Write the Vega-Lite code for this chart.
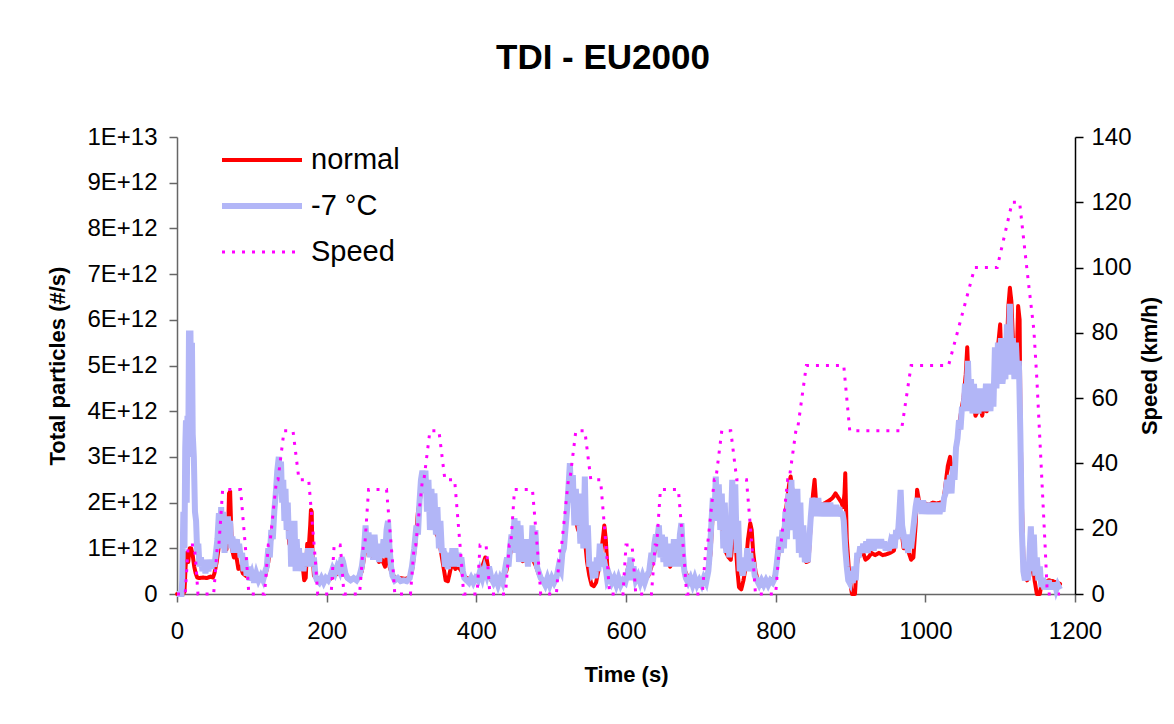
{
"$schema": "https://vega.github.io/schema/vega-lite/v6.json",
"width": 898, "height": 457,
"autosize": {"type": "none"},
"padding": {"left": 177, "top": 137, "right": 99, "bottom": 130},
"background": "white",
"title": {"text": "TDI - EU2000", "font": "Liberation Sans", "fontSize": 35, "fontWeight": "bold", "color": "#000", "anchor": "middle", "baseline": "alphabetic", "offset": 21, "dx": -23},
"datasets": {
"normal": [
{"t":0,"normal":0},{"t":8,"normal":0},{"t":10,"normal":0.05e12},{"t":11.5,"normal":0.6e12},{"t":13,"normal":0.9e12},{"t":15,"normal":0.7e12},{"t":17,"normal":1.0e12},{"t":19,"normal":1.0e12},{"t":21,"normal":0.85e12},{"t":23,"normal":0.6e12},{"t":25,"normal":0.45e12},{"t":27,"normal":0.36e12},{"t":30,"normal":0.35e12},{"t":35,"normal":0.36e12},{"t":40,"normal":0.35e12},{"t":45,"normal":0.38e12},{"t":48,"normal":0.36e12},{"t":50,"normal":0.45e12},{"t":53,"normal":0.7e12},{"t":56,"normal":1.05e12},{"t":58,"normal":1.3e12},{"t":60,"normal":1.2e12},{"t":62,"normal":1.35e12},{"t":64,"normal":1.1e12},{"t":66,"normal":0.97e12},{"t":68,"normal":1.2e12},{"t":69.5,"normal":2.2e12},{"t":71,"normal":2.24e12},{"t":72.5,"normal":1.4e12},{"t":74,"normal":0.95e12},{"t":76,"normal":0.8e12},{"t":78,"normal":1.0e12},{"t":80,"normal":0.75e12},{"t":82,"normal":0.55e12},{"t":85,"normal":0.6e12},{"t":88,"normal":0.45e12},{"t":92,"normal":0.4e12},{"t":96,"normal":0.35e12},{"t":100,"normal":0.33e12},{"t":105,"normal":0.3e12},{"t":110,"normal":0.32e12},{"t":115,"normal":0.35e12},{"t":118,"normal":0.4e12},{"t":122,"normal":0.7e12},{"t":126,"normal":1.2e12},{"t":130,"normal":1.8e12},{"t":133,"normal":2.3e12},{"t":136,"normal":2.6e12},{"t":138,"normal":2.5e12},{"t":140,"normal":2.2e12},{"t":143,"normal":2.0e12},{"t":146,"normal":2.0e12},{"t":148,"normal":1.5e12},{"t":150,"normal":1.1e12},{"t":153,"normal":1.0e12},{"t":156,"normal":1.2e12},{"t":159,"normal":0.9e12},{"t":162,"normal":0.7e12},{"t":165,"normal":0.75e12},{"t":168,"normal":0.6e12},{"t":170,"normal":0.3e12},{"t":172,"normal":0.35e12},{"t":174,"normal":1.1e12},{"t":176,"normal":1.0e12},{"t":178,"normal":1.5e12},{"t":179,"normal":1.84e12},{"t":180,"normal":1.8e12},{"t":181,"normal":0.9e12},{"t":183,"normal":0.4e12},{"t":186,"normal":0.35e12},{"t":190,"normal":0.35e12},{"t":195,"normal":0.33e12},{"t":200,"normal":0.35e12},{"t":205,"normal":0.33e12},{"t":210,"normal":0.4e12},{"t":215,"normal":0.45e12},{"t":220,"normal":0.55e12},{"t":223,"normal":0.5e12},{"t":227,"normal":0.35e12},{"t":232,"normal":0.33e12},{"t":238,"normal":0.35e12},{"t":243,"normal":0.35e12},{"t":247,"normal":0.5e12},{"t":251,"normal":0.9e12},{"t":254,"normal":1.1e12},{"t":258,"normal":1.0e12},{"t":262,"normal":0.8e12},{"t":266,"normal":0.85e12},{"t":270,"normal":0.7e12},{"t":274,"normal":0.75e12},{"t":278,"normal":0.6e12},{"t":282,"normal":1.0e12},{"t":284,"normal":0.6e12},{"t":287,"normal":0.45e12},{"t":292,"normal":0.35e12},{"t":298,"normal":0.35e12},{"t":304,"normal":0.33e12},{"t":310,"normal":0.35e12},{"t":314,"normal":0.5e12},{"t":318,"normal":1.0e12},{"t":322,"normal":1.8e12},{"t":326,"normal":2.2e12},{"t":329,"normal":2.3e12},{"t":332,"normal":2.6e12},{"t":335,"normal":2.3e12},{"t":338,"normal":2.0e12},{"t":341,"normal":1.8e12},{"t":344,"normal":1.5e12},{"t":347,"normal":1.3e12},{"t":350,"normal":1.2e12},{"t":353,"normal":0.9e12},{"t":356,"normal":0.6e12},{"t":359,"normal":0.3e12},{"t":362,"normal":0.28e12},{"t":365,"normal":0.5e12},{"t":368,"normal":0.7e12},{"t":372,"normal":0.55e12},{"t":376,"normal":0.6e12},{"t":380,"normal":0.5e12},{"t":384,"normal":0.4e12},{"t":388,"normal":0.33e12},{"t":392,"normal":0.35e12},{"t":396,"normal":0.3e12},{"t":400,"normal":0.35e12},{"t":404,"normal":0.45e12},{"t":408,"normal":0.6e12},{"t":412,"normal":0.8e12},{"t":414,"normal":0.75e12},{"t":417,"normal":0.45e12},{"t":420,"normal":0.3e12},{"t":425,"normal":0.35e12},{"t":430,"normal":0.3e12},{"t":436,"normal":0.4e12},{"t":440,"normal":0.5e12},{"t":444,"normal":0.8e12},{"t":447,"normal":1.0e12},{"t":450,"normal":1.3e12},{"t":453,"normal":1.2e12},{"t":456,"normal":1.0e12},{"t":459,"normal":0.8e12},{"t":462,"normal":0.72e12},{"t":465,"normal":0.75e12},{"t":468,"normal":0.9e12},{"t":471,"normal":0.75e12},{"t":474,"normal":0.9e12},{"t":477,"normal":0.7e12},{"t":480,"normal":0.6e12},{"t":483,"normal":0.45e12},{"t":486,"normal":0.35e12},{"t":490,"normal":0.3e12},{"t":495,"normal":0.3e12},{"t":500,"normal":0.3e12},{"t":505,"normal":0.33e12},{"t":510,"normal":0.5e12},{"t":514,"normal":0.7e12},{"t":518,"normal":1.2e12},{"t":521,"normal":1.8e12},{"t":524,"normal":2.2e12},{"t":527,"normal":2.5e12},{"t":530,"normal":2.0e12},{"t":533,"normal":1.6e12},{"t":536,"normal":1.4e12},{"t":539,"normal":1.8e12},{"t":542,"normal":1.5e12},{"t":545,"normal":1.2e12},{"t":548,"normal":0.7e12},{"t":551,"normal":0.4e12},{"t":554,"normal":0.2e12},{"t":557,"normal":0.17e12},{"t":560,"normal":0.25e12},{"t":563,"normal":0.5e12},{"t":566,"normal":0.8e12},{"t":569,"normal":1.2e12},{"t":571,"normal":1.5e12},{"t":573,"normal":1.2e12},{"t":575,"normal":0.6e12},{"t":578,"normal":0.35e12},{"t":582,"normal":0.3e12},{"t":588,"normal":0.28e12},{"t":594,"normal":0.3e12},{"t":600,"normal":0.35e12},{"t":603,"normal":0.6e12},{"t":606,"normal":0.6e12},{"t":609,"normal":0.45e12},{"t":612,"normal":0.35e12},{"t":616,"normal":0.3e12},{"t":620,"normal":0.28e12},{"t":625,"normal":0.35e12},{"t":630,"normal":0.4e12},{"t":634,"normal":0.6e12},{"t":638,"normal":0.9e12},{"t":642,"normal":1.1e12},{"t":645,"normal":1.25e12},{"t":648,"normal":1.0e12},{"t":651,"normal":0.9e12},{"t":655,"normal":0.75e12},{"t":659,"normal":0.6e12},{"t":662,"normal":0.7e12},{"t":665,"normal":0.9e12},{"t":669,"normal":0.8e12},{"t":673,"normal":1.0e12},{"t":676,"normal":0.7e12},{"t":679,"normal":0.5e12},{"t":683,"normal":0.35e12},{"t":688,"normal":0.3e12},{"t":694,"normal":0.3e12},{"t":700,"normal":0.32e12},{"t":706,"normal":0.35e12},{"t":710,"normal":0.5e12},{"t":713,"normal":0.9e12},{"t":716,"normal":1.8e12},{"t":719,"normal":2.1e12},{"t":722,"normal":2.3e12},{"t":725,"normal":2.0e12},{"t":728,"normal":1.5e12},{"t":731,"normal":1.2e12},{"t":734,"normal":0.9e12},{"t":737,"normal":0.8e12},{"t":740,"normal":0.75e12},{"t":743,"normal":1.2e12},{"t":745,"normal":2.0e12},{"t":747,"normal":1.0e12},{"t":749,"normal":0.5e12},{"t":751,"normal":0.15e12},{"t":754,"normal":0.1e12},{"t":757,"normal":0.3e12},{"t":760,"normal":0.6e12},{"t":763,"normal":1.2e12},{"t":766,"normal":1.55e12},{"t":768,"normal":1.4e12},{"t":770,"normal":0.9e12},{"t":773,"normal":0.5e12},{"t":776,"normal":0.3e12},{"t":782,"normal":0.28e12},{"t":790,"normal":0.3e12},{"t":797,"normal":0.33e12},{"t":800,"normal":0.45e12},{"t":803,"normal":0.8e12},{"t":806,"normal":1.1e12},{"t":809,"normal":1.2e12},{"t":812,"normal":1.6e12},{"t":815,"normal":2.0e12},{"t":818,"normal":2.4e12},{"t":820,"normal":2.57e12},{"t":823,"normal":2.2e12},{"t":826,"normal":1.9e12},{"t":829,"normal":1.6e12},{"t":832,"normal":1.8e12},{"t":835,"normal":1.2e12},{"t":838,"normal":0.8e12},{"t":841,"normal":0.7e12},{"t":844,"normal":0.72e12},{"t":847,"normal":1.6e12},{"t":850,"normal":2.2e12},{"t":852,"normal":2.5e12},{"t":854,"normal":2.0e12},{"t":857,"normal":2.0e12},{"t":862,"normal":1.95e12},{"t":867,"normal":2.0e12},{"t":872,"normal":2.05e12},{"t":876,"normal":2.1e12},{"t":880,"normal":2.2e12},{"t":884,"normal":2.1e12},{"t":888,"normal":2.0e12},{"t":890,"normal":1.9e12},{"t":892,"normal":2.2e12},{"t":893,"normal":2.64e12},{"t":895,"normal":1.2e12},{"t":898,"normal":0.5e12},{"t":901,"normal":0.1e12},{"t":902,"normal":0},{"t":906,"normal":0},{"t":908,"normal":0.6e12},{"t":911,"normal":0.85e12},{"t":914,"normal":1.0e12},{"t":917,"normal":0.9e12},{"t":920,"normal":0.75e12},{"t":924,"normal":0.8e12},{"t":928,"normal":0.9e12},{"t":933,"normal":0.85e12},{"t":938,"normal":0.9e12},{"t":943,"normal":0.85e12},{"t":948,"normal":0.87e12},{"t":953,"normal":0.9e12},{"t":958,"normal":0.95e12},{"t":961,"normal":1.2e12},{"t":964,"normal":1.5e12},{"t":966,"normal":1.77e12},{"t":968,"normal":1.4e12},{"t":971,"normal":1.0e12},{"t":975,"normal":1.0e12},{"t":978,"normal":0.9e12},{"t":981,"normal":0.75e12},{"t":984,"normal":0.8e12},{"t":987,"normal":1.5e12},{"t":989,"normal":2.28e12},{"t":992,"normal":2.0e12},{"t":996,"normal":2.0e12},{"t":1000,"normal":1.98e12},{"t":1005,"normal":1.95e12},{"t":1010,"normal":2.0e12},{"t":1015,"normal":1.98e12},{"t":1020,"normal":2.0e12},{"t":1024,"normal":2.0e12},{"t":1027,"normal":2.4e12},{"t":1030,"normal":2.8e12},{"t":1033,"normal":3.0e12},{"t":1036,"normal":2.6e12},{"t":1039,"normal":2.8e12},{"t":1042,"normal":3.3e12},{"t":1045,"normal":3.7e12},{"t":1048,"normal":4.0e12},{"t":1051,"normal":4.3e12},{"t":1054,"normal":4.8e12},{"t":1056,"normal":5.4e12},{"t":1058,"normal":4.6e12},{"t":1061,"normal":4.1e12},{"t":1064,"normal":4.3e12},{"t":1067,"normal":3.9e12},{"t":1070,"normal":4.0e12},{"t":1073,"normal":4.2e12},{"t":1076,"normal":3.9e12},{"t":1079,"normal":4.2e12},{"t":1082,"normal":4.0e12},{"t":1085,"normal":4.5e12},{"t":1088,"normal":4.2e12},{"t":1091,"normal":4.5e12},{"t":1094,"normal":4.8e12},{"t":1097,"normal":5.4e12},{"t":1100,"normal":5.9e12},{"t":1102,"normal":5.0e12},{"t":1105,"normal":4.8e12},{"t":1108,"normal":5.0e12},{"t":1111,"normal":6.3e12},{"t":1113,"normal":6.7e12},{"t":1115,"normal":6.4e12},{"t":1117,"normal":5.6e12},{"t":1120,"normal":5.1e12},{"t":1122,"normal":5.0e12},{"t":1124,"normal":6.3e12},{"t":1126,"normal":6.0e12},{"t":1127,"normal":4.0e12},{"t":1129,"normal":2.0e12},{"t":1131,"normal":0.8e12},{"t":1133,"normal":0.4e12},{"t":1136,"normal":0.3e12},{"t":1139,"normal":0.4e12},{"t":1142,"normal":0.75e12},{"t":1144,"normal":0.6e12},{"t":1146,"normal":0.3e12},{"t":1148,"normal":0.1e12},{"t":1149,"normal":0},{"t":1153,"normal":0},{"t":1155,"normal":0.2e12},{"t":1157,"normal":0.3e12},{"t":1160,"normal":0.25e12},{"t":1165,"normal":0.3e12},{"t":1170,"normal":0.28e12},{"t":1175,"normal":0.25e12},{"t":1180,"normal":0.22e12}
],
"cold": [
{"t":0,"cold":0},{"t":6,"cold":0},{"t":7,"cold":0.3e12},{"t":8.5,"cold":1.8e12},{"t":10,"cold":1.0e12},{"t":11,"cold":3.2e12},{"t":12,"cold":3.8e12},{"t":13,"cold":2.0e12},{"t":14,"cold":3.9e12},{"t":15,"cold":3.0e12},{"t":16,"cold":5.7e12},{"t":18,"cold":5.7e12},{"t":19,"cold":4.0e12},{"t":20,"cold":5.5e12},{"t":21,"cold":3.5e12},{"t":22.5,"cold":3.0e12},{"t":24,"cold":1.8e12},{"t":25.5,"cold":1.6e12},{"t":27,"cold":0.9e12},{"t":28.5,"cold":1.1e12},{"t":30,"cold":0.6e12},{"t":32,"cold":0.8e12},{"t":34,"cold":0.5e12},{"t":36,"cold":0.7e12},{"t":38,"cold":0.45e12},{"t":40,"cold":0.75e12},{"t":42,"cold":0.5e12},{"t":44,"cold":0.7e12},{"t":46,"cold":0.55e12},{"t":48,"cold":0.75e12},{"t":50,"cold":0.6e12},{"t":52,"cold":0.9e12},{"t":54,"cold":1.2e12},{"t":56,"cold":1.77e12},{"t":57.5,"cold":1.2e12},{"t":59,"cold":1.9e12},{"t":60.5,"cold":1.0e12},{"t":62,"cold":1.8e12},{"t":63.5,"cold":0.9e12},{"t":65,"cold":1.5e12},{"t":66.5,"cold":1.1e12},{"t":68,"cold":1.7e12},{"t":69.5,"cold":1.3e12},{"t":71,"cold":1.6e12},{"t":72.5,"cold":1.0e12},{"t":74,"cold":1.26e12},{"t":75.5,"cold":0.9e12},{"t":77,"cold":1.2e12},{"t":78.5,"cold":0.95e12},{"t":80,"cold":1.2e12},{"t":81.5,"cold":0.9e12},{"t":83,"cold":1.1e12},{"t":85,"cold":0.8e12},{"t":87,"cold":0.9e12},{"t":89,"cold":0.5e12},{"t":91,"cold":0.8e12},{"t":93,"cold":0.4e12},{"t":95,"cold":0.6e12},{"t":97,"cold":0.3e12},{"t":100,"cold":0.45e12},{"t":103,"cold":0.25e12},{"t":106,"cold":0.45e12},{"t":109,"cold":0.3e12},{"t":112,"cold":0.4e12},{"t":115,"cold":0.3e12},{"t":118,"cold":0.5e12},{"t":120,"cold":0.6e12},{"t":122,"cold":1.0e12},{"t":124,"cold":0.8e12},{"t":126,"cold":1.4e12},{"t":128,"cold":1.2e12},{"t":130,"cold":1.8e12},{"t":132,"cold":2.2e12},{"t":134,"cold":2.7e12},{"t":136,"cold":3.0e12},{"t":137.5,"cold":2.6e12},{"t":139,"cold":2.9e12},{"t":140.5,"cold":2.0e12},{"t":142,"cold":2.5e12},{"t":143.5,"cold":1.6e12},{"t":145,"cold":2.3e12},{"t":146.5,"cold":1.4e12},{"t":148,"cold":2.0e12},{"t":149.5,"cold":1.2e12},{"t":151,"cold":1.6e12},{"t":152.5,"cold":0.6e12},{"t":154,"cold":1.6e12},{"t":155.5,"cold":0.7e12},{"t":157,"cold":1.6e12},{"t":158.5,"cold":0.5e12},{"t":160,"cold":1.2e12},{"t":161.5,"cold":0.6e12},{"t":163,"cold":1.0e12},{"t":165,"cold":0.5e12},{"t":167,"cold":0.9e12},{"t":169,"cold":0.5e12},{"t":171,"cold":0.8e12},{"t":173,"cold":0.6e12},{"t":175,"cold":1.0e12},{"t":177,"cold":0.7e12},{"t":179,"cold":1.0e12},{"t":181,"cold":0.6e12},{"t":183,"cold":0.8e12},{"t":185,"cold":0.4e12},{"t":187,"cold":0.3e12},{"t":190,"cold":0.25e12},{"t":193,"cold":0.35e12},{"t":196,"cold":0.25e12},{"t":199,"cold":0.35e12},{"t":202,"cold":0.3e12},{"t":205,"cold":0.4e12},{"t":208,"cold":0.55e12},{"t":211,"cold":0.45e12},{"t":214,"cold":0.6e12},{"t":217,"cold":0.5e12},{"t":220,"cold":0.8e12},{"t":222,"cold":0.7e12},{"t":225,"cold":0.45e12},{"t":228,"cold":0.35e12},{"t":232,"cold":0.3e12},{"t":236,"cold":0.35e12},{"t":240,"cold":0.3e12},{"t":244,"cold":0.4e12},{"t":247,"cold":0.6e12},{"t":250,"cold":1.0e12},{"t":252,"cold":1.5e12},{"t":254,"cold":0.9e12},{"t":256,"cold":1.35e12},{"t":258,"cold":0.8e12},{"t":260,"cold":1.3e12},{"t":262,"cold":0.75e12},{"t":264,"cold":1.3e12},{"t":266,"cold":0.8e12},{"t":268,"cold":1.1e12},{"t":270,"cold":0.7e12},{"t":272,"cold":1.0e12},{"t":274,"cold":0.8e12},{"t":276,"cold":1.2e12},{"t":278,"cold":0.8e12},{"t":280,"cold":1.4e12},{"t":282,"cold":1.6e12},{"t":284,"cold":1.0e12},{"t":286,"cold":0.6e12},{"t":288,"cold":0.4e12},{"t":291,"cold":0.3e12},{"t":295,"cold":0.35e12},{"t":299,"cold":0.28e12},{"t":303,"cold":0.3e12},{"t":307,"cold":0.28e12},{"t":311,"cold":0.35e12},{"t":314,"cold":0.6e12},{"t":317,"cold":1.0e12},{"t":320,"cold":1.5e12},{"t":322,"cold":1.3e12},{"t":324,"cold":2.0e12},{"t":326,"cold":2.5e12},{"t":328,"cold":2.7e12},{"t":330,"cold":2.3e12},{"t":332,"cold":2.7e12},{"t":334,"cold":1.8e12},{"t":336,"cold":2.5e12},{"t":338,"cold":1.4e12},{"t":340,"cold":2.3e12},{"t":342,"cold":1.6e12},{"t":344,"cold":2.2e12},{"t":346,"cold":1.3e12},{"t":348,"cold":1.9e12},{"t":350,"cold":1.0e12},{"t":352,"cold":1.6e12},{"t":354,"cold":0.9e12},{"t":356,"cold":1.0e12},{"t":358,"cold":0.6e12},{"t":360,"cold":0.7e12},{"t":362,"cold":0.55e12},{"t":364,"cold":0.9e12},{"t":366,"cold":0.6e12},{"t":368,"cold":1.0e12},{"t":370,"cold":0.6e12},{"t":372,"cold":1.0e12},{"t":374,"cold":0.65e12},{"t":376,"cold":0.9e12},{"t":378,"cold":0.6e12},{"t":380,"cold":0.8e12},{"t":382,"cold":0.5e12},{"t":384,"cold":0.35e12},{"t":387,"cold":0.3e12},{"t":390,"cold":0.25e12},{"t":393,"cold":0.35e12},{"t":396,"cold":0.25e12},{"t":399,"cold":0.35e12},{"t":402,"cold":0.3e12},{"t":405,"cold":0.5e12},{"t":408,"cold":0.35e12},{"t":411,"cold":0.55e12},{"t":414,"cold":0.4e12},{"t":417,"cold":0.6e12},{"t":420,"cold":0.35e12},{"t":423,"cold":0.25e12},{"t":426,"cold":0.35e12},{"t":429,"cold":0.2e12},{"t":432,"cold":0.35e12},{"t":435,"cold":0.25e12},{"t":438,"cold":0.5e12},{"t":441,"cold":0.8e12},{"t":443,"cold":0.6e12},{"t":445,"cold":1.0e12},{"t":447,"cold":1.3e12},{"t":449,"cold":1.1e12},{"t":451,"cold":1.66e12},{"t":453,"cold":0.9e12},{"t":455,"cold":1.6e12},{"t":457,"cold":0.7e12},{"t":459,"cold":1.5e12},{"t":461,"cold":0.8e12},{"t":463,"cold":1.2e12},{"t":465,"cold":0.7e12},{"t":467,"cold":1.1e12},{"t":469,"cold":0.6e12},{"t":471,"cold":1.2e12},{"t":473,"cold":0.8e12},{"t":475,"cold":1.5e12},{"t":477,"cold":0.7e12},{"t":479,"cold":1.4e12},{"t":481,"cold":0.6e12},{"t":483,"cold":0.5e12},{"t":486,"cold":0.35e12},{"t":489,"cold":0.3e12},{"t":492,"cold":0.2e12},{"t":495,"cold":0.35e12},{"t":498,"cold":0.2e12},{"t":501,"cold":0.35e12},{"t":504,"cold":0.25e12},{"t":507,"cold":0.35e12},{"t":510,"cold":0.6e12},{"t":513,"cold":0.5e12},{"t":515,"cold":0.9e12},{"t":517,"cold":1.0e12},{"t":519,"cold":1.4e12},{"t":521,"cold":1.8e12},{"t":523,"cold":2.3e12},{"t":525,"cold":2.86e12},{"t":527,"cold":2.0e12},{"t":529,"cold":2.6e12},{"t":531,"cold":1.5e12},{"t":533,"cold":2.3e12},{"t":535,"cold":1.5e12},{"t":537,"cold":1.9e12},{"t":539,"cold":1.1e12},{"t":541,"cold":2.2e12},{"t":543,"cold":1.0e12},{"t":545,"cold":2.57e12},{"t":547,"cold":1.0e12},{"t":549,"cold":1.5e12},{"t":551,"cold":0.6e12},{"t":553,"cold":0.7e12},{"t":555,"cold":0.45e12},{"t":557,"cold":0.5e12},{"t":559,"cold":0.35e12},{"t":561,"cold":0.8e12},{"t":563,"cold":0.5e12},{"t":565,"cold":1.1e12},{"t":567,"cold":0.6e12},{"t":569,"cold":0.9e12},{"t":571,"cold":0.7e12},{"t":573,"cold":0.55e12},{"t":575,"cold":0.3e12},{"t":578,"cold":0.4e12},{"t":581,"cold":0.25e12},{"t":584,"cold":0.35e12},{"t":587,"cold":0.2e12},{"t":590,"cold":0.35e12},{"t":593,"cold":0.2e12},{"t":596,"cold":0.3e12},{"t":599,"cold":0.25e12},{"t":602,"cold":0.45e12},{"t":604,"cold":0.35e12},{"t":606,"cold":0.8e12},{"t":608,"cold":0.3e12},{"t":610,"cold":0.6e12},{"t":613,"cold":0.3e12},{"t":616,"cold":0.4e12},{"t":619,"cold":0.25e12},{"t":622,"cold":0.4e12},{"t":625,"cold":0.25e12},{"t":628,"cold":0.4e12},{"t":631,"cold":0.5e12},{"t":634,"cold":0.9e12},{"t":636,"cold":0.7e12},{"t":638,"cold":1.1e12},{"t":640,"cold":1.3e12},{"t":642,"cold":1.2e12},{"t":644,"cold":1.5e12},{"t":646,"cold":0.8e12},{"t":648,"cold":1.3e12},{"t":650,"cold":0.7e12},{"t":652,"cold":1.25e12},{"t":654,"cold":0.6e12},{"t":656,"cold":1.1e12},{"t":658,"cold":0.7e12},{"t":660,"cold":1.0e12},{"t":662,"cold":0.6e12},{"t":664,"cold":1.2e12},{"t":666,"cold":0.7e12},{"t":668,"cold":1.1e12},{"t":670,"cold":0.6e12},{"t":672,"cold":1.3e12},{"t":674,"cold":1.55e12},{"t":676,"cold":0.9e12},{"t":678,"cold":0.5e12},{"t":680,"cold":0.35e12},{"t":683,"cold":0.25e12},{"t":686,"cold":0.35e12},{"t":689,"cold":0.2e12},{"t":692,"cold":0.35e12},{"t":695,"cold":0.2e12},{"t":698,"cold":0.3e12},{"t":701,"cold":0.2e12},{"t":704,"cold":0.35e12},{"t":707,"cold":0.25e12},{"t":710,"cold":0.5e12},{"t":712,"cold":0.9e12},{"t":714,"cold":1.5e12},{"t":716,"cold":2.1e12},{"t":718,"cold":1.6e12},{"t":720,"cold":2.57e12},{"t":722,"cold":1.7e12},{"t":724,"cold":2.4e12},{"t":726,"cold":1.4e12},{"t":728,"cold":2.2e12},{"t":730,"cold":1.0e12},{"t":732,"cold":2.0e12},{"t":734,"cold":0.9e12},{"t":736,"cold":1.6e12},{"t":738,"cold":0.8e12},{"t":740,"cold":1.4e12},{"t":742,"cold":2.5e12},{"t":744,"cold":1.2e12},{"t":746,"cold":2.4e12},{"t":748,"cold":0.9e12},{"t":750,"cold":1.6e12},{"t":752,"cold":0.5e12},{"t":754,"cold":0.6e12},{"t":756,"cold":0.4e12},{"t":758,"cold":0.8e12},{"t":760,"cold":0.5e12},{"t":762,"cold":1.0e12},{"t":764,"cold":0.6e12},{"t":766,"cold":0.9e12},{"t":768,"cold":0.5e12},{"t":770,"cold":0.7e12},{"t":772,"cold":0.4e12},{"t":775,"cold":0.3e12},{"t":778,"cold":0.2e12},{"t":781,"cold":0.3e12},{"t":784,"cold":0.2e12},{"t":787,"cold":0.3e12},{"t":790,"cold":0.2e12},{"t":793,"cold":0.3e12},{"t":796,"cold":0.25e12},{"t":799,"cold":0.35e12},{"t":801,"cold":0.6e12},{"t":803,"cold":0.9e12},{"t":805,"cold":1.25e12},{"t":807,"cold":0.9e12},{"t":809,"cold":1.4e12},{"t":811,"cold":1.0e12},{"t":813,"cold":1.8e12},{"t":815,"cold":1.2e12},{"t":817,"cold":2.2e12},{"t":819,"cold":1.4e12},{"t":821,"cold":2.5e12},{"t":823,"cold":1.5e12},{"t":825,"cold":2.3e12},{"t":827,"cold":1.2e12},{"t":829,"cold":2.3e12},{"t":831,"cold":0.9e12},{"t":833,"cold":2.0e12},{"t":835,"cold":0.8e12},{"t":837,"cold":1.5e12},{"t":839,"cold":0.7e12},{"t":841,"cold":0.8e12},{"t":843,"cold":0.7e12},{"t":845,"cold":1.2e12},{"t":847,"cold":1.7e12},{"t":849,"cold":2.1e12},{"t":851,"cold":1.9e12},{"t":853,"cold":2.1e12},{"t":855,"cold":1.7e12},{"t":857,"cold":2.1e12},{"t":859,"cold":1.7e12},{"t":861,"cold":2.0e12},{"t":863,"cold":1.7e12},{"t":865,"cold":2.0e12},{"t":867,"cold":1.75e12},{"t":869,"cold":2.0e12},{"t":871,"cold":1.7e12},{"t":873,"cold":2.0e12},{"t":875,"cold":1.75e12},{"t":877,"cold":1.95e12},{"t":879,"cold":1.7e12},{"t":881,"cold":1.95e12},{"t":883,"cold":1.75e12},{"t":885,"cold":1.9e12},{"t":887,"cold":1.7e12},{"t":889,"cold":1.8e12},{"t":891,"cold":1.6e12},{"t":893,"cold":1.0e12},{"t":895,"cold":0.6e12},{"t":897,"cold":0.3e12},{"t":899,"cold":0.24e12},{"t":901,"cold":0.5e12},{"t":903,"cold":0.24e12},{"t":905,"cold":0.6e12},{"t":907,"cold":0.3e12},{"t":909,"cold":0.9e12},{"t":911,"cold":0.8e12},{"t":913,"cold":1.04e12},{"t":915,"cold":0.9e12},{"t":917,"cold":1.1e12},{"t":919,"cold":0.9e12},{"t":921,"cold":1.15e12},{"t":923,"cold":0.9e12},{"t":925,"cold":1.2e12},{"t":927,"cold":0.95e12},{"t":929,"cold":1.15e12},{"t":931,"cold":0.95e12},{"t":933,"cold":1.2e12},{"t":935,"cold":1.0e12},{"t":937,"cold":1.2e12},{"t":939,"cold":1.0e12},{"t":941,"cold":1.2e12},{"t":943,"cold":1.0e12},{"t":945,"cold":1.15e12},{"t":947,"cold":0.95e12},{"t":949,"cold":1.1e12},{"t":951,"cold":0.95e12},{"t":953,"cold":1.1e12},{"t":955,"cold":1.0e12},{"t":957,"cold":1.3e12},{"t":959,"cold":1.0e12},{"t":961,"cold":1.4e12},{"t":963,"cold":1.2e12},{"t":965,"cold":1.7e12},{"t":967,"cold":2.28e12},{"t":969,"cold":1.5e12},{"t":971,"cold":1.3e12},{"t":973,"cold":1.0e12},{"t":975,"cold":1.2e12},{"t":977,"cold":0.9e12},{"t":979,"cold":1.3e12},{"t":981,"cold":1.0e12},{"t":983,"cold":1.3e12},{"t":985,"cold":1.6e12},{"t":987,"cold":1.9e12},{"t":989,"cold":2.1e12},{"t":991,"cold":1.8e12},{"t":993,"cold":2.05e12},{"t":995,"cold":1.75e12},{"t":997,"cold":2.05e12},{"t":999,"cold":1.75e12},{"t":1001,"cold":2.0e12},{"t":1003,"cold":1.75e12},{"t":1005,"cold":2.0e12},{"t":1007,"cold":1.75e12},{"t":1009,"cold":2.0e12},{"t":1011,"cold":1.75e12},{"t":1013,"cold":2.0e12},{"t":1015,"cold":1.75e12},{"t":1017,"cold":2.0e12},{"t":1019,"cold":1.75e12},{"t":1021,"cold":1.95e12},{"t":1023,"cold":1.8e12},{"t":1025,"cold":2.1e12},{"t":1027,"cold":2.2e12},{"t":1029,"cold":2.5e12},{"t":1031,"cold":2.3e12},{"t":1033,"cold":2.6e12},{"t":1035,"cold":2.2e12},{"t":1037,"cold":2.8e12},{"t":1039,"cold":2.5e12},{"t":1041,"cold":3.2e12},{"t":1043,"cold":3.4e12},{"t":1045,"cold":3.8e12},{"t":1047,"cold":3.6e12},{"t":1049,"cold":4.1e12},{"t":1051,"cold":4.0e12},{"t":1053,"cold":4.6e12},{"t":1055,"cold":4.4e12},{"t":1057,"cold":5.1e12},{"t":1059,"cold":4.0e12},{"t":1061,"cold":4.7e12},{"t":1063,"cold":3.95e12},{"t":1065,"cold":4.6e12},{"t":1067,"cold":3.95e12},{"t":1069,"cold":4.5e12},{"t":1071,"cold":3.95e12},{"t":1073,"cold":4.4e12},{"t":1075,"cold":4.0e12},{"t":1077,"cold":4.5e12},{"t":1079,"cold":4.0e12},{"t":1081,"cold":4.6e12},{"t":1083,"cold":4.1e12},{"t":1085,"cold":4.5e12},{"t":1087,"cold":4.0e12},{"t":1089,"cold":4.6e12},{"t":1091,"cold":4.1e12},{"t":1093,"cold":5.4e12},{"t":1095,"cold":4.5e12},{"t":1097,"cold":5.5e12},{"t":1099,"cold":4.7e12},{"t":1101,"cold":5.6e12},{"t":1103,"cold":4.6e12},{"t":1105,"cold":4.9e12},{"t":1107,"cold":4.7e12},{"t":1109,"cold":5.9e12},{"t":1111,"cold":4.8e12},{"t":1113,"cold":6.35e12},{"t":1115,"cold":5.2e12},{"t":1117,"cold":5.6e12},{"t":1119,"cold":4.7e12},{"t":1121,"cold":5.5e12},{"t":1123,"cold":4.8e12},{"t":1125,"cold":5.1e12},{"t":1127,"cold":3.5e12},{"t":1129,"cold":1.4e12},{"t":1131,"cold":0.5e12},{"t":1133,"cold":0.3e12},{"t":1135,"cold":0.45e12},{"t":1137,"cold":0.3e12},{"t":1139,"cold":0.8e12},{"t":1141,"cold":1.48e12},{"t":1143,"cold":0.5e12},{"t":1145,"cold":1.3e12},{"t":1147,"cold":0.4e12},{"t":1149,"cold":0.8e12},{"t":1151,"cold":0.3e12},{"t":1153,"cold":0.6e12},{"t":1155,"cold":0.15e12},{"t":1157,"cold":0.35e12},{"t":1159,"cold":0.1e12},{"t":1161,"cold":0.3e12},{"t":1163,"cold":0.1e12},{"t":1165,"cold":0.3e12},{"t":1167,"cold":0.1e12},{"t":1169,"cold":0.25e12},{"t":1171,"cold":0.1e12},{"t":1173,"cold":0.25e12},{"t":1175,"cold":0.1e12},{"t":1177,"cold":0.2e12},{"t":1180,"cold":0.1e12}
],
"speed": [
{"t":0,"speed":0},{"t":11,"speed":0},{"t":15,"speed":15},{"t":23,"speed":15},{"t":25,"speed":10},{"t":28,"speed":0},{"t":49,"speed":0},{"t":54,"speed":15},{"t":56,"speed":15},{"t":61,"speed":32},{"t":85,"speed":32},{"t":93,"speed":10},{"t":96,"speed":0},{"t":117,"speed":0},{"t":122,"speed":15},{"t":124,"speed":15},{"t":133,"speed":35},{"t":135,"speed":35},{"t":143,"speed":50},{"t":155,"speed":50},{"t":163,"speed":35},{"t":176,"speed":35},{"t":185,"speed":10},{"t":188,"speed":0},
{"t":195,"speed":0},{"t":206,"speed":0},{"t":210,"speed":15},{"t":218,"speed":15},{"t":220,"speed":10},{"t":223,"speed":0},{"t":244,"speed":0},{"t":249,"speed":15},{"t":251,"speed":15},{"t":256,"speed":32},{"t":280,"speed":32},{"t":288,"speed":10},{"t":291,"speed":0},{"t":312,"speed":0},{"t":317,"speed":15},{"t":319,"speed":15},{"t":328,"speed":35},{"t":330,"speed":35},{"t":338,"speed":50},{"t":350,"speed":50},{"t":358,"speed":35},{"t":371,"speed":35},{"t":380,"speed":10},{"t":383,"speed":0},
{"t":390,"speed":0},{"t":401,"speed":0},{"t":405,"speed":15},{"t":413,"speed":15},{"t":415,"speed":10},{"t":418,"speed":0},{"t":439,"speed":0},{"t":444,"speed":15},{"t":446,"speed":15},{"t":451,"speed":32},{"t":475,"speed":32},{"t":483,"speed":10},{"t":486,"speed":0},{"t":507,"speed":0},{"t":512,"speed":15},{"t":514,"speed":15},{"t":523,"speed":35},{"t":525,"speed":35},{"t":533,"speed":50},{"t":545,"speed":50},{"t":553,"speed":35},{"t":566,"speed":35},{"t":575,"speed":10},{"t":578,"speed":0},
{"t":585,"speed":0},{"t":596,"speed":0},{"t":600,"speed":15},{"t":608,"speed":15},{"t":610,"speed":10},{"t":613,"speed":0},{"t":634,"speed":0},{"t":639,"speed":15},{"t":641,"speed":15},{"t":646,"speed":32},{"t":670,"speed":32},{"t":678,"speed":10},{"t":681,"speed":0},{"t":702,"speed":0},{"t":707,"speed":15},{"t":709,"speed":15},{"t":718,"speed":35},{"t":720,"speed":35},{"t":728,"speed":50},{"t":740,"speed":50},{"t":748,"speed":35},{"t":761,"speed":35},{"t":770,"speed":10},{"t":773,"speed":0},
{"t":780,"speed":0},{"t":800,"speed":0},{"t":805,"speed":15},{"t":807,"speed":15},{"t":816,"speed":35},{"t":818,"speed":35},{"t":827,"speed":50},{"t":829,"speed":50},{"t":841,"speed":70},{"t":891,"speed":70},{"t":899,"speed":50},{"t":968,"speed":50},{"t":981,"speed":70},{"t":1031,"speed":70},{"t":1066,"speed":100},{"t":1096,"speed":100},{"t":1116,"speed":120},{"t":1126,"speed":120},{"t":1136,"speed":99},{"t":1145,"speed":81},{"t":1149,"speed":66},{"t":1154,"speed":43},{"t":1160,"speed":15},{"t":1163,"speed":0},{"t":1180,"speed":0}
]
},
"layer": [
{
"layer": [
{"data": {"name": "normal"}, "transform": [{"fold": ["normal"], "as": ["series", "value"]}], "mark": {"type": "line", "strokeJoin": "round", "strokeCap": "round"}},
{"data": {"name": "cold"}, "transform": [{"fold": ["cold"], "as": ["series", "value"]}], "mark": {"type": "line", "strokeJoin": "miter", "strokeCap": "butt"}}
],
"encoding": {
"x": {"field": "t", "type": "quantitative", "scale": {"domain": [0, 1200], "nice": false},
"axis": {"values": [0, 200, 400, 600, 800, 1000, 1200], "format": "d", "title": "Time (s)", "labelFlush": false, "labelPadding": 17, "titleX": 449, "titleY": 87, "titleBaseline": "alphabetic", "titleAlign": "center", "tickSize": 8}},
"y": {"field": "value", "type": "quantitative", "scale": {"domain": [0, 1e13], "nice": false},
"axis": {"values": [0, 1e12, 2e12, 3e12, 4e12, 5e12, 6e12, 7e12, 8e12, 9e12, 1e13], "title": "Total particles (#/s)", "labelExpr": "datum.value == 0 ? '0' : (datum.value >= 1e13 ? '1E+13' : format(datum.value / 1e12, 'd') + 'E+12')", "labelPadding": 12, "titleAngle": 270, "titleX": -120, "titleY": 228.5, "titleBaseline": "middle", "titleAlign": "center", "tickSize": 8}},
"color": {"field": "series", "type": "nominal", "title": null, "scale": {"domain": ["normal", "cold", "speed"], "range": ["#FF0000", "#B2B6F7", "#FF00FF"]}, "legend": {"labelExpr": "datum.label == 'cold' ? '-7 °C' : (datum.label == 'speed' ? 'Speed' : datum.label)"}},
"strokeDash": {"field": "series", "type": "nominal", "title": null, "scale": {"domain": ["normal", "cold", "speed"], "range": [[1, 0], [1, 0], [3, 7]]}, "legend": {"labelExpr": "datum.label == 'cold' ? '-7 °C' : (datum.label == 'speed' ? 'Speed' : datum.label)"}},
"strokeWidth": {"field": "series", "type": "nominal", "title": null, "scale": {"type": "ordinal", "domain": ["normal", "cold", "speed"], "range": [4, 6, 3]}, "legend": {"labelExpr": "datum.label == 'cold' ? '-7 °C' : (datum.label == 'speed' ? 'Speed' : datum.label)"}}
}
},
{
"data": {"name": "speed"},
"transform": [{"fold": ["speed"], "as": ["series", "value"]}],
"mark": {"type": "line", "strokeCap": "butt"},
"encoding": {
"x": {"field": "t", "type": "quantitative", "scale": {"domain": [0, 1200], "nice": false}},
"y": {"field": "value", "type": "quantitative", "scale": {"domain": [0, 140], "nice": false},
"axis": {"orient": "right", "values": [0, 20, 40, 60, 80, 100, 120, 140], "title": "Speed (km/h)", "labelPadding": 8, "titleAngle": 270, "titleX": 74, "titleY": 228.5, "titleBaseline": "middle", "titleAlign": "center", "tickSize": 8, "domainColor": "#000", "tickColor": "#000"}},
"color": {"field": "series", "type": "nominal", "title": null, "scale": {"domain": ["normal", "cold", "speed"], "range": ["#FF0000", "#B2B6F7", "#FF00FF"]}, "legend": {"labelExpr": "datum.label == 'cold' ? '-7 °C' : (datum.label == 'speed' ? 'Speed' : datum.label)"}},
"strokeDash": {"field": "series", "type": "nominal", "title": null, "scale": {"domain": ["normal", "cold", "speed"], "range": [[1, 0], [1, 0], [3, 7]]}, "legend": {"labelExpr": "datum.label == 'cold' ? '-7 °C' : (datum.label == 'speed' ? 'Speed' : datum.label)"}},
"strokeWidth": {"field": "series", "type": "nominal", "title": null, "scale": {"type": "ordinal", "domain": ["normal", "cold", "speed"], "range": [4, 6, 3]}, "legend": {"labelExpr": "datum.label == 'cold' ? '-7 °C' : (datum.label == 'speed' ? 'Speed' : datum.label)"}}
}
}
],
"resolve": {"scale": {"y": "independent"}},
"config": {
"font": "Liberation Sans",
"view": {"stroke": null},
"axis": {"grid": false, "labelFont": "Liberation Sans", "labelFontSize": 24, "labelColor": "#000", "labelOverlap": false, "labelBound": false, "titleFont": "Liberation Sans", "titleFontSize": 22, "titleFontWeight": "bold", "titleColor": "#000", "domainColor": "#666", "tickColor": "#666", "domainWidth": 1.5, "tickWidth": 1.5},
"legend": {"orient": "none", "legendX": 42, "legendY": 0, "symbolType": "stroke", "symbolSize": 6400, "clipHeight": 46, "labelFont": "Liberation Sans", "labelFontSize": 29, "labelColor": "#000", "labelOffset": 6, "rowPadding": 0, "padding": 0, "symbolFillColor": "transparent"}
}
}
